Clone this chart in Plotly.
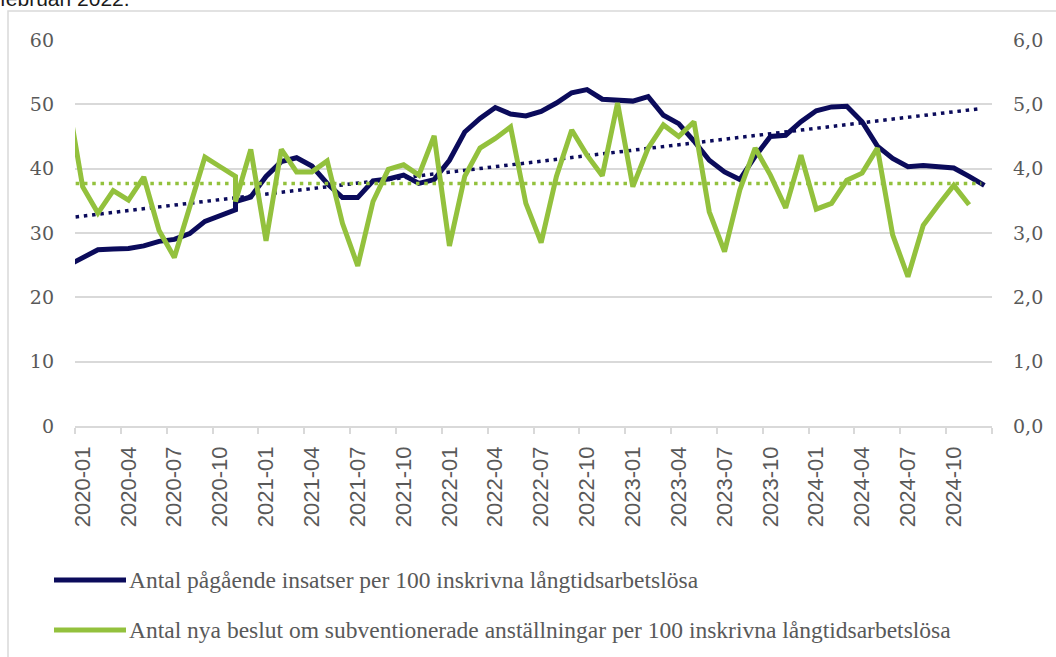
import plotly.graph_objects as go

# ---------------- data (month index: 2020-01 = 0; 2019-12 = -1) ----------------
months_labels = ["2020-01", "2020-04", "2020-07", "2020-10", "2021-01", "2021-04", "2021-07",
                 "2021-10", "2022-01", "2022-04", "2022-07", "2022-10", "2023-01", "2023-04",
                 "2023-07", "2023-10", "2024-01", "2024-04", "2024-07", "2024-10"]
label_idx = [0, 3, 6, 9, 12, 15, 18, 21, 24, 27, 30, 33, 36, 39, 42, 45, 48, 51, 54, 57]

blue_x = [-1, 0, 1, 2, 3, 4, 5, 6, 7, 8, 9, 10, 10, 11, 12, 13, 14, 15, 16, 17, 18, 19,
          20, 21, 22, 23, 24, 25, 26, 27, 28, 29, 30, 31, 32, 33, 34, 35, 36, 37, 38, 39,
          40, 41, 42, 43, 44, 45, 46, 47, 48, 49, 50, 51, 52, 53, 54, 55, 56, 57, 58, 59]
blue_y = [24.9, 26.1, 27.4, 27.5, 27.6, 28.0, 28.7, 29.0, 29.9, 31.8, 32.6, 33.6, 34.9,
          35.6, 38.8, 41.1, 41.7, 40.4, 37.7, 35.5, 35.5, 38.1, 38.4, 39.0, 37.7, 38.3,
          41.3, 45.7, 47.8, 49.5, 48.5, 48.2, 48.9, 50.2, 51.8, 52.3, 50.8, 50.6, 50.5,
          51.2, 48.3, 47.0, 44.3, 41.3, 39.5, 38.3, 41.9, 45.0, 45.2, 47.3, 49.0, 49.6,
          49.7, 47.3, 43.5, 41.6, 40.3, 40.5, 40.3, 40.1, 38.8, 37.4]

green_x = [-1, 0, 1, 2, 3, 4, 5, 6, 7, 8, 9, 10, 10, 11, 12, 13, 14, 15, 16, 17, 18, 19,
           20, 21, 22, 23, 24, 25, 26, 27, 28, 29, 30, 31, 32, 33, 34, 35, 36, 37, 38, 39,
           40, 41, 42, 43, 44, 45, 46, 47, 48, 49, 50, 51, 52, 53, 54, 55, 56, 57, 58]
green_y = [5.12, 3.72, 3.31, 3.66, 3.51, 3.87, 3.04, 2.62, 3.40, 4.18, 4.03, 3.88, 3.49,
           4.30, 2.88, 4.30, 3.95, 3.95, 4.12, 3.15, 2.49, 3.49, 3.99, 4.06, 3.90, 4.51,
           2.80, 3.88, 4.32, 4.47, 4.65, 3.46, 2.85, 3.88, 4.60, 4.21, 3.89, 5.02, 3.72,
           4.32, 4.68, 4.50, 4.73, 3.33, 2.71, 3.67, 4.32, 3.90, 3.39, 4.21, 3.37, 3.46,
           3.82, 3.93, 4.32, 2.97, 2.32, 3.12, 3.44, 3.74, 3.44]

blue_trend_x = [-1, 58.8]
blue_trend_y = [32.35, 49.35]
green_trend_x = [-1, 58.8]
green_trend_y = [3.77, 3.77]

left_ticks = [0, 10, 20, 30, 40, 50, 60]
right_ticks = [0, 1, 2, 3, 4, 5, 6]
right_ticktext = ["0,0", "1,0", "2,0", "3,0", "4,0", "5,0", "6,0"]

legend_names = ["Antal pågående insatser per 100 inskrivna långtidsarbetslösa",
                "Antal nya beslut om subventionerade anställningar per 100 inskrivna långtidsarbetslösa"]
caption = "februari 2022."

# ---------------- styling ----------------
W, H = 1056, 657
L, R, T, B = 75, 64, 40, 231
PW, PH = W - L - R, H - T - B
NAVY = "#0b0b5b"
GREEN = "#93c13d"
GRID = "#d9d9d9"
TXT = "#595959"


def px(x):
    return (x - L) / PW


def py(y):
    return (H - B - y) / PH


fig = go.Figure()
fig.add_trace(go.Scatter(x=blue_trend_x, y=blue_trend_y, mode="lines", showlegend=False,
                         line=dict(color=NAVY, width=3.5, dash="3.5px,4.8px")))
fig.add_trace(go.Scatter(x=green_trend_x, y=green_trend_y, mode="lines", showlegend=False, yaxis="y2",
                         line=dict(color=GREEN, width=3.5, dash="3.5px,4.8px")))
fig.add_trace(go.Scatter(x=blue_x, y=blue_y, mode="lines", showlegend=False,
                         line=dict(color=NAVY, width=5)))
fig.add_trace(go.Scatter(x=green_x, y=green_y, mode="lines", showlegend=False, yaxis="y2",
                         line=dict(color=GREEN, width=5)))

minor_ticks = [i - 0.5 for i in label_idx] + [59.5]

fig.update_layout(
    width=W, height=H, margin=dict(l=L, r=R, t=T, b=B, pad=0),
    paper_bgcolor="white", plot_bgcolor="white", showlegend=False,
    xaxis=dict(range=[-0.5, 59.5], tickvals=label_idx, ticktext=months_labels, tickangle=-90,
               ticks="", showgrid=False, zeroline=False, showline=True, linecolor=GRID, linewidth=1.5,
               tickfont=dict(family="Liberation Sans, Arial", size=22, color=TXT),
               ticklabelstandoff=10,
               minor=dict(tickvals=minor_ticks, ticks="outside", ticklen=6, tickcolor=GRID,
                          tickwidth=1.5, showgrid=False)),
    yaxis=dict(range=[0, 60], tickvals=left_ticks, ticktext=[str(v) for v in left_ticks],
               showgrid=True, gridcolor=GRID, gridwidth=1.5, zeroline=False, ticks="",
               tickfont=dict(family="DejaVu Serif", size=19, color=TXT), ticklabelstandoff=20),
    yaxis2=dict(range=[0, 6], overlaying="y", side="right", tickvals=right_ticks,
                ticktext=right_ticktext, showgrid=False, zeroline=False, ticks="",
                tickfont=dict(family="DejaVu Serif", size=19, color=TXT), ticklabelstandoff=20),
)

shapes = [
    dict(type="rect", xref="paper", yref="paper", x0=px(8), x1=px(1075), y0=py(11), y1=py(680),
         line=dict(color=GRID, width=1.5), fillcolor="rgba(0,0,0,0)", layer="below"),
    dict(type="line", xref="paper", yref="paper", x0=px(54), x1=px(126), y0=py(580), y1=py(580),
         line=dict(color=NAVY, width=5)),
    dict(type="line", xref="paper", yref="paper", x0=px(54), x1=px(126), y0=py(630), y1=py(630),
         line=dict(color=GREEN, width=5)),
]
fig.update_layout(shapes=shapes)

annotations = [
    dict(text=legend_names[0], xref="paper", yref="paper", x=px(127), y=py(580), xanchor="left",
         yanchor="middle", showarrow=False, font=dict(family="Liberation Serif", size=23.5, color=TXT)),
    dict(text=legend_names[1], xref="paper", yref="paper", x=px(127), y=py(630), xanchor="left",
         yanchor="middle", showarrow=False, font=dict(family="Liberation Serif", size=23.5, color=TXT)),
    dict(text=caption, xref="paper", yref="paper", x=px(-2), y=py(12), xanchor="left",
         yanchor="bottom", showarrow=False, font=dict(family="Liberation Sans, Arial", size=21, color="#1a1a1a")),
]
fig.update_layout(annotations=annotations)

fig.write_html("out.html", config={"displayModeBar": False},
               post_script="document.body.style.margin='0';")
